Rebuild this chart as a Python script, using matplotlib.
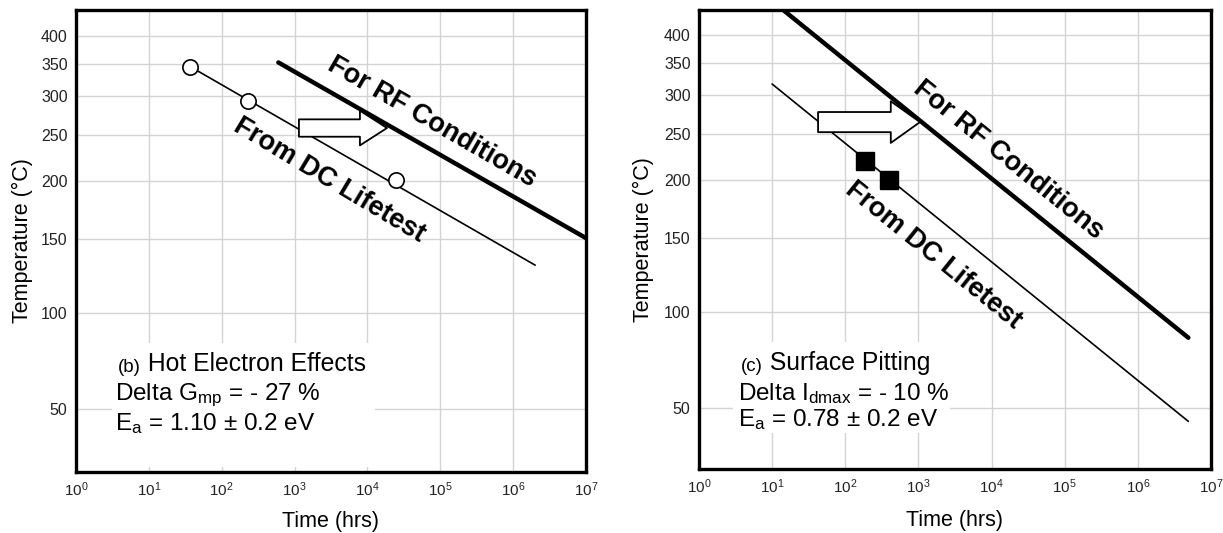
import matplotlib
matplotlib.use("Agg")
import matplotlib.pyplot as plt
import matplotlib.patches as mpatches
from matplotlib.ticker import FixedLocator, NullLocator, LogFormatterSciNotation

plt.rcParams['font.family'] = ['Liberation Sans', 'DejaVu Sans']
plt.rcParams['mathtext.fontset'] = 'custom'
plt.rcParams['mathtext.rm'] = 'Liberation Sans'
plt.rcParams['mathtext.it'] = 'Liberation Sans:italic'

# ---- data ----
temp_ticks = [50, 100, 150, 200, 250, 300, 350, 400]
time_ticks = [1e0, 1e1, 1e2, 1e3, 1e4, 1e5, 1e6, 1e7]

# (b) hot electron effects
dc_b_time = [37, 2.0e6]
dc_b_temp = [345, 131]
pts_b_time = [37, 230, 25000]
pts_b_temp = [345, 293, 201]
rf_b_time = [600, 1e7]
rf_b_temp = [352, 151]
arrow_b_time = [1150, 18600]
arrow_b_temp = 258

# (c) surface pitting
dc_c_time = [10, 4.9e6]
dc_c_temp = [316, 44]
pts_c_time = [187, 398]
pts_c_temp = [220, 200]
rf_c_time = [13.6, 4.9e6]
rf_c_temp = [455, 85]
arrow_c_time = [42.5, 1050]
arrow_c_temp = 264


def fwd(t):
    return -1.0 / (t + 273.15)


def inv(y):
    return -1.0 / y - 273.15


def setup(ax, ylim):
    ax.set_xscale('log')
    ax.set_yscale('function', functions=(fwd, inv))
    ax.set_xlim(1, 1e7)
    ax.set_ylim(*ylim)
    ax.xaxis.set_major_locator(FixedLocator(time_ticks))
    ax.xaxis.set_major_formatter(LogFormatterSciNotation())
    ax.xaxis.set_minor_locator(NullLocator())
    ax.yaxis.set_major_locator(FixedLocator(temp_ticks))
    ax.yaxis.set_minor_locator(NullLocator())
    ax.set_yticklabels([str(t) for t in temp_ticks])
    ax.tick_params(axis='x', length=0, pad=6, labelsize=11, colors='#222222')
    ax.tick_params(axis='y', length=0, pad=6, labelsize=11.5, colors='#222222')
    ax.grid(True, color='#d4d4d4', lw=1.0)
    ax.set_axisbelow(True)
    for s in ax.spines.values():
        s.set_linewidth(2.4)
        s.set_color('black')
    ax.set_xlabel('Time (hrs)', fontsize=15.5)
    ax.set_ylabel('Temperature (°C)', fontsize=15.5)


def block_arrow(ax, times, temp, shaft, head_w, head_l):
    style = mpatches.ArrowStyle.Simple(head_length=head_l, head_width=head_w,
                                       tail_width=shaft)
    arr = mpatches.FancyArrowPatch((times[0], temp), (times[1], temp),
                                   arrowstyle=style, mutation_scale=1,
                                   shrinkA=0, shrinkB=0, fc='white',
                                   ec='black', lw=1.3, zorder=6)
    ax.add_patch(arr)


def info_box(ax, box, lines, ys, x0):
    ax.add_patch(mpatches.Rectangle((box[0], box[1]), box[2], box[3],
                                    transform=ax.transAxes, fc='white',
                                    ec='none', zorder=1))
    t = ax.text(x0 + 0.006, ys[0], lines[0], transform=ax.transAxes,
                fontsize=13.5, va='baseline', ha='left', zorder=7)
    ax.annotate(lines[1], xy=(1, 0), xycoords=t, fontsize=17.8,
                va='bottom', ha='left', zorder=7)
    ax.text(x0, ys[1], lines[2], transform=ax.transAxes, fontsize=17.5,
            va='baseline', ha='left', zorder=7)
    ax.text(x0, ys[2], lines[3], transform=ax.transAxes, fontsize=17.5,
            va='baseline', ha='left', zorder=7)


fig = plt.figure(figsize=(12.23, 5.33), dpi=100)
ax1 = fig.add_axes([0.0621, 0.1144, 0.4170, 0.8668])
ax2 = fig.add_axes([0.5715, 0.1201, 0.4187, 0.8611])

# ---------- panel (b) ----------
setup(ax1, (23.8, 455))
ax1.plot(dc_b_time, dc_b_temp, color='black', lw=1.2, zorder=3)
ax1.plot(pts_b_time, pts_b_temp, ls='none', marker='o', ms=11,
         mfc='white', mec='black', mew=1.2, zorder=4)
ax1.plot(rf_b_time, rf_b_temp, color='black', lw=3.2, zorder=3,
         solid_capstyle='round')
block_arrow(ax1, arrow_b_time, arrow_b_temp, 12.5, 25, 19.5)
ax1.text(0.698, 0.758, 'For RF Conditions', transform=ax1.transAxes,
         fontsize=19.5, fontweight='bold', rotation=-30,
         rotation_mode='anchor', ha='center', va='center', zorder=7)
ax1.text(0.496, 0.632, 'From DC Lifetest', transform=ax1.transAxes,
         fontsize=19.5, fontweight='bold', rotation=-31,
         rotation_mode='anchor', ha='center', va='center', zorder=7)
info_box(ax1, (0.071, 0.011, 0.515, 0.268),
         ['(b)', ' Hot Electron Effects',
          'Delta G$_{\\rm mp}$ = - 27 %',
          'E$_{\\rm a}$ = 1.10 ± 0.2 eV'],
         [0.216, 0.155, 0.091], 0.076)
ax1.yaxis.set_label_coords(-0.085, 0.5)
ax1.xaxis.set_label_coords(0.5, -0.085)

# ---------- panel (c) ----------
setup(ax2, (24.6, 452.5))
ax2.plot(dc_c_time, dc_c_temp, color='black', lw=1.2, zorder=3,
         solid_capstyle='round')
ax2.plot(pts_c_time, pts_c_temp, ls='none', marker='s', ms=13,
         mfc='black', mec='black', zorder=4)
ax2.plot(rf_c_time, rf_c_temp, color='black', lw=3.2, zorder=3,
         solid_capstyle='round')
block_arrow(ax2, arrow_c_time, arrow_c_temp, 14.5, 30, 21)
ax2.text(0.6035, 0.673, 'For RF Conditions', transform=ax2.transAxes,
         fontsize=19.5, fontweight='bold', rotation=-39,
         rotation_mode='anchor', ha='center', va='center', zorder=7)
ax2.text(0.458, 0.466, 'From DC Lifetest', transform=ax2.transAxes,
         fontsize=19.5, fontweight='bold', rotation=-39,
         rotation_mode='anchor', ha='center', va='center', zorder=7)
info_box(ax2, (0.066, 0.078, 0.424, 0.199),
         ['(c)', ' Surface Pitting',
          'Delta I$_{\\rm dmax}$ = - 10 %',
          'E$_{\\rm a}$ = 0.78 ± 0.2 eV'],
         [0.214, 0.151, 0.094], 0.076)
ax2.yaxis.set_label_coords(-0.088, 0.5)
ax2.xaxis.set_label_coords(0.5, -0.09)

fig.savefig('out.png', dpi=100)
